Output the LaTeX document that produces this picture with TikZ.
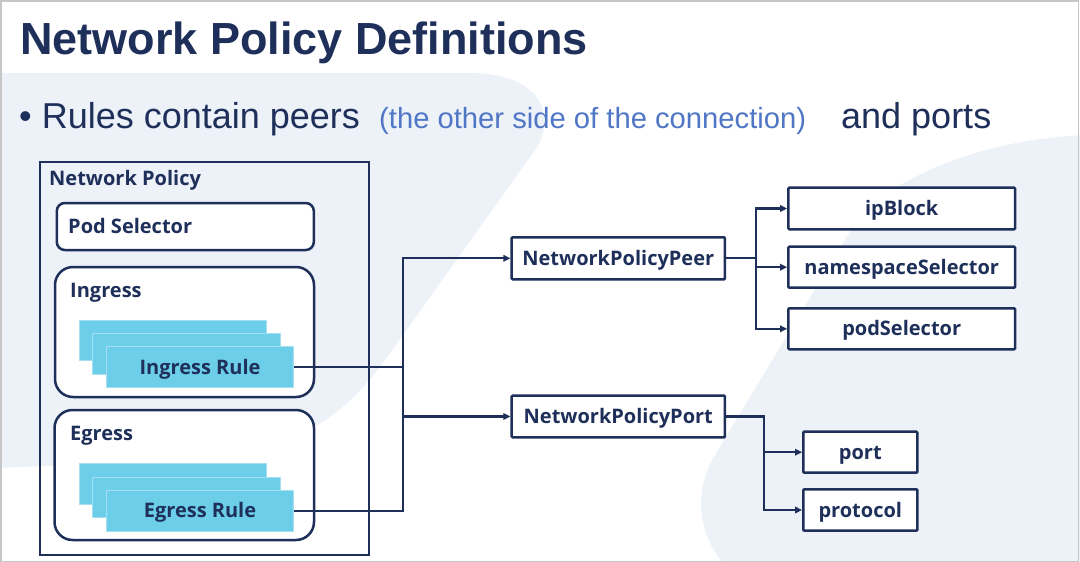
\documentclass[tikz,border=0pt]{standalone}
\usepackage{fontspec}
\setmainfont{Liberation Sans}
\newfontfamily\osans{Open Sans}
\usetikzlibrary{arrows.meta}
\definecolor{navy}{RGB}{30,47,90}
\definecolor{bluetxt}{RGB}{80,119,197}
\definecolor{bgl}{RGB}{237,241,248}
\definecolor{rulec}{RGB}{108,206,232}
\definecolor{ruleedge}{RGB}{165,224,241}
\definecolor{framec}{RGB}{198,198,198}
\begin{document}
\begin{tikzpicture}[x=1pt,y=-1pt,
  lbl/.style={font=\osans\bfseries\fontsize{20}{23}\selectfont, text=navy, inner sep=0},
  boxtxt/.style={font=\osans\bfseries\fontsize{20}{23}\selectfont, text=navy, text height=14.3pt, text depth=0pt},
  wh/.style 2 args={minimum width=#1, minimum height=#2},
  sqbox/.style={boxtxt, draw=navy, line width=2.5pt, fill=white, rounded corners=1pt, inner sep=0},
  grpbox/.style={draw=navy, line width=2.5pt, fill=white, inner sep=0},
  rulebox/.style={boxtxt, fill=rulec, draw=ruleedge, line width=0.6pt, inner sep=0, wh={187.5pt}{40.7pt}},
  conn/.style={draw=navy, line width=2.3pt, line join=miter},
  arr/.style={conn, -{Triangle[length=7pt,width=6.5pt]}}]
\useasboundingbox (0,0) rectangle (1080,562);
% background
\begin{scope}
\clip (0,0) rectangle (1080,562);
\fill[white] (0,0) rectangle (1080,562);
\fill[bgl] (-5,73) -- (470,73) .. controls (545,73) and (556,120) .. (535,150)
  -- (385,360) .. controls (349,410) and (300,452) .. (200,460) -- (-5,468) -- cycle;
\fill[bgl] (1090,135) .. controls (990,138) and (905,172) .. (860,215)
  -- (715,455) .. controls (690,497) and (700,545) .. (735,575) -- (1090,575) -- cycle;
\end{scope}
\draw[framec, line width=1.5pt] (0.75,0.75) rectangle (1078.5,561.25);
% title and bullet
\node[anchor=base west, inner sep=0, text=navy, font=\bfseries\fontsize{45}{50}\selectfont] (title) at (20,54) {Network Policy Definitions};
\node[anchor=base west, inner sep=0, text=navy, font=\fontsize{36}{40}\selectfont] (b1) at (19,128) {\textbullet\ Rules contain peers};
\node[anchor=base west, inner sep=0, text=bluetxt, font=\fontsize{29.2}{34}\selectfont] (b2) at (379,128) {(the other side of the connection)};
\node[anchor=base west, inner sep=0, text=navy, font=\fontsize{36}{40}\selectfont] (b3) at (841,128) {and ports};
% Network Policy
\node[draw=navy, line width=2.5pt, inner sep=0, wh={329pt}{393pt}] (np) at (204.5,358.5) {};
\node[lbl, anchor=base west] (nplbl) at (49,185) {Network Policy};
\node[grpbox, rounded corners=8pt, wh={257pt}{47pt}] (podsel) at (185.3,226.5) {};
\node[lbl, anchor=base west] (podsellbl) at (68,233.5) {Pod Selector};
\node[grpbox, rounded corners=18pt, wh={259pt}{130pt}] (ing) at (184.5,332) {};
\node[lbl, anchor=base west] (inglbl) at (70,297) {Ingress};
\node[rulebox] (ir1) at (173,340.3) {};
\node[rulebox] (ir2) at (186.5,353.7) {};
\node[rulebox] (ir3) at (200,367) {Ingress Rule};
\node[grpbox, rounded corners=18pt, wh={259.5pt}{130pt}] (egr) at (184.25,475) {};
\node[lbl, anchor=base west] (egrlbl) at (70,440.5) {Egress};
\node[rulebox] (er1) at (173,483.7) {};
\node[rulebox] (er2) at (186.5,497.2) {};
\node[rulebox] (er3) at (200,510.7) {Egress Rule};
% right side
\node[sqbox, wh={213.3pt}{42pt}] (peer) at (618.3,258.3) {NetworkPolicyPeer};
\node[sqbox, wh={213.3pt}{41.6pt}] (port) at (618.3,416.5) {NetworkPolicyPort};
\node[sqbox, wh={226.7pt}{41.6pt}] (ipb) at (901.7,208.5) {ipBlock};
\node[sqbox, wh={226.7pt}{41pt}] (nss) at (901.7,267.2) {namespaceSelector};
\node[sqbox, wh={226.7pt}{41pt}] (pods) at (901.7,328.8) {podSelector};
\node[sqbox, wh={114pt}{41pt}] (portf) at (860.3,452.2) {port};
\node[sqbox, wh={114pt}{41.4pt}] (proto) at (860.3,510) {protocol};
% connectors
\coordinate (bus) at (403,0);
\coordinate (pbus) at (756,0);
\coordinate (tbus) at (764,0);
\draw[conn] (ir3.east) -- (ir3.east -| bus);
\draw[arr] (er3.east) -- (er3.east -| bus) -- (bus |- peer.west) -- (peer.west);
\draw[arr] (bus |- port.west) -- (port.west);
\draw[arr] (peer.east) -- (peer.east -| pbus) |- (ipb.west);
\draw[arr] (pbus |- ipb.west) |- (pods.west);
\draw[arr] (pbus |- nss.west) -- (nss.west);
\draw[arr] (port.east) -| (tbus |- portf.west) -- (portf.west);
\draw[arr] (tbus |- portf.west) |- (proto.west);
\end{tikzpicture}
\end{document}
